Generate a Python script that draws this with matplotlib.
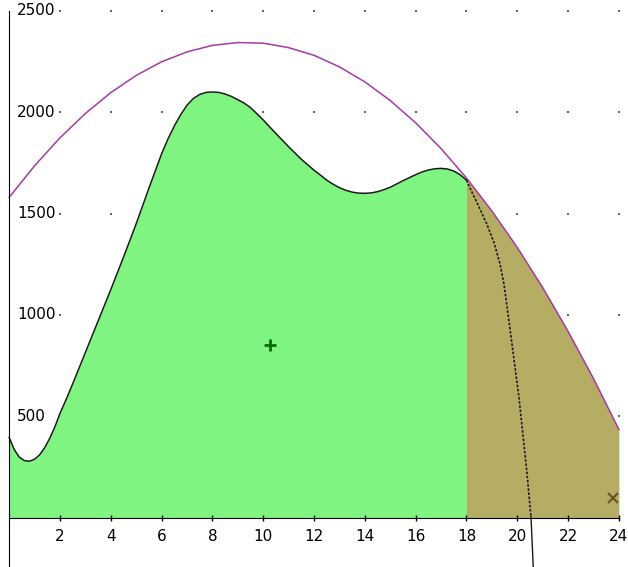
import matplotlib
matplotlib.use("Agg")
import matplotlib.pyplot as plt
import numpy as np

# upper curve of the green area
curve_x = [0, 0.2, 0.4, 0.6, 0.8, 1.0, 1.2, 1.4, 1.6, 1.8, 2.0, 2.25, 2.5, 3.0, 3.5, 4.0,
           4.5, 5.0, 5.5, 5.75, 6.0, 6.25, 6.5, 6.75, 7.0, 7.25, 7.5, 7.75, 8.0, 8.25,
           8.5, 8.75, 9.0, 9.25, 9.5, 9.75, 10.0, 10.5, 11.0, 11.5, 12.0, 12.25, 12.5,
           12.75, 13.0, 13.25, 13.5, 13.75, 14.0, 14.25, 14.5, 14.75, 15.0, 15.5, 16.0,
           16.25, 16.5, 16.75, 17.0, 17.25, 17.5, 17.75, 18.0]
curve_y = [395, 335, 298, 281, 278, 288, 310, 345, 392, 448, 514, 585, 660, 815, 970, 1125,
           1285, 1450, 1625, 1710, 1795, 1868, 1932, 1988, 2035, 2068, 2088, 2098, 2100, 2098,
           2090, 2078, 2062, 2045, 2023, 1993, 1962, 1895, 1830, 1768, 1714, 1690, 1665,
           1645, 1628, 1615, 1606, 1601, 1600, 1602, 1608, 1618, 1630, 1662, 1692,
           1705, 1715, 1721, 1723, 1720, 1710, 1692, 1665]

# purple arc
arc_x = list(range(0, 25))
arc_y = [1580, 1736, 1874, 1994, 2097, 2182, 2249, 2298, 2330, 2344, 2341, 2319, 2281,
         2224, 2150, 2058, 1948, 1821, 1676, 1513, 1333, 1135, 919, 686, 435]

# falling dotted curve
drop_x = [18.0, 18.14, 18.46, 18.8, 19.09, 19.32, 19.48, 19.61, 19.8, 20.07, 20.24, 20.39, 20.54]
drop_y = [1665, 1626, 1542, 1449, 1355, 1252, 1150, 1030, 850, 590, 390, 210, 4]
tail_x = [20.54, 20.63]
tail_y = [4, -243]

plus_pt = (10.27, 851)
cross_pt = (23.76, 95)

x_ticks = [2, 4, 6, 8, 10, 12, 14, 16, 18, 20, 22, 24]
y_ticks = [500, 1000, 1500, 2000, 2500]

fig = plt.figure(figsize=(6.28, 5.67), dpi=100)
ax = fig.add_axes([0, 0, 1, 1])
ax.set_xlim(-0.362, 24.36)
ax.set_ylim(-244, 2554)

# dotted grid
gx, gy = np.meshgrid(x_ticks, y_ticks)
ax.scatter(gx.ravel(), gy.ravel(), s=1.2, marker="s", color="#666666", lw=0, zorder=0)

# filled areas
ax.fill_between(curve_x, curve_y, 0, color="#80f480", lw=0, zorder=1)
arc_x2 = [x for x in arc_x if x >= 18]
arc_y2 = [y for x, y in zip(arc_x, arc_y) if x >= 18]
ax.fill_between(arc_x2, arc_y2, 0, color="#b6ad64", lw=0, zorder=1)

ax.plot(arc_x, arc_y, color="#a53aa5", lw=1.1, zorder=3)
ax.plot(curve_x, curve_y, color="#1a1a1a", lw=1.1, zorder=3)
ax.plot(drop_x, drop_y, color="#1a1a1a", lw=1.2, ls=(0, (1.5, 1)), zorder=3)
ax.plot(tail_x, tail_y, color="#1a1a1a", lw=1.0, zorder=3)

ax.plot(*plus_pt, marker="+", ms=8, mew=2, color="#0a6a0a", zorder=4)
ax.plot(*cross_pt, marker="x", ms=7, mew=1.6, color="#6b5428", zorder=4)

# axes through the origin
for s in ["top", "right"]:
    ax.spines[s].set_visible(False)
ax.spines["bottom"].set_position(("data", 0))
ax.spines["bottom"].set_bounds(0, 24)
ax.spines["left"].set_position(("data", 0))
ax.spines["left"].set_bounds(-244, 2500)
ax.spines["bottom"].set_zorder(5)
ax.spines["left"].set_zorder(5)

ax.set_xticks(x_ticks)
ax.set_xticklabels([str(v) for v in x_ticks], fontsize=11)
ax.tick_params(axis="x", direction="inout", length=5, width=1, pad=6)
ax.set_yticks([])
for v in y_ticks:
    ax.text(0.027, v, str(v), transform=ax.get_yaxis_transform(), fontsize=11,
            ha="left", va="center", zorder=6)

fig.savefig("out.png", dpi=100)
